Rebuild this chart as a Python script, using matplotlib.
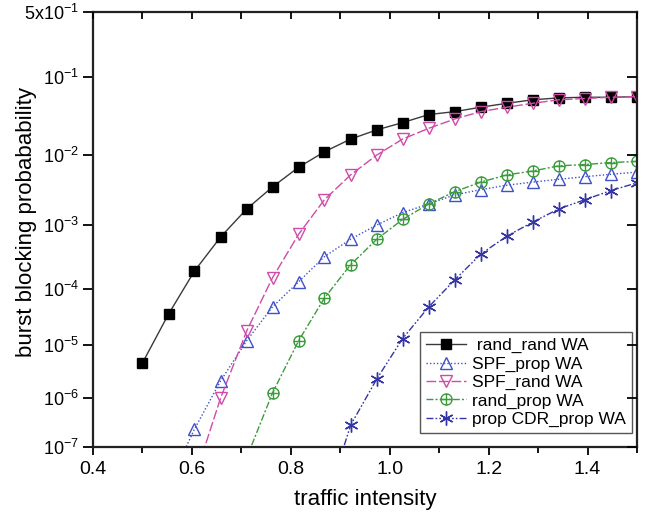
import matplotlib
matplotlib.use("Agg")
import matplotlib.pyplot as plt
import numpy as np
from matplotlib.path import Path
from matplotlib.ticker import FixedLocator, MultipleLocator, NullLocator

plt.rcParams["font.family"] = ["Liberation Sans", "DejaVu Sans"]
plt.rcParams["mathtext.fontset"] = "custom"
plt.rcParams["mathtext.rm"] = "Liberation Sans"
plt.rcParams["mathtext.it"] = "Liberation Sans:italic"

nan = np.nan

# traffic intensity (20 load points, 0.5 ... 1.5)
load = [0.500, 0.553, 0.605, 0.658, 0.711, 0.763, 0.816, 0.868, 0.921, 0.974,
        1.026, 1.079, 1.132, 1.184, 1.237, 1.289, 1.342, 1.395, 1.447, 1.500]

# burst blocking probability per scheme (nan = not simulated / not shown)
rand_rand = [4.6e-6, 3.6e-5, 1.9e-4, 6.5e-4, 1.7e-3, 3.5e-3, 6.7e-3, 1.1e-2, 1.6e-2, 2.1e-2,
             2.6e-2, 3.3e-2, 3.6e-2, 4.1e-2, 4.6e-2, 5.1e-2, 5.4e-2, 5.5e-2, 5.5e-2, 5.6e-2]
spf_prop = [nan, 1.6e-8, 2.3e-7, 2.1e-6, 1.2e-5, 4.8e-5, 1.3e-4, 3.2e-4, 6.0e-4, 1.0e-3,
            1.5e-3, 2.0e-3, 2.7e-3, 3.2e-3, 3.7e-3, 4.1e-3, 4.5e-3, 4.9e-3, 5.3e-3, 5.7e-3]
spf_rand = [nan, nan, 2.1e-8, 1.0e-6, 1.8e-5, 1.5e-4, 7.2e-4, 2.3e-3, 5.2e-3, 1.0e-2,
            1.6e-2, 2.2e-2, 2.9e-2, 3.6e-2, 4.1e-2, 4.6e-2, 5.1e-2, 5.3e-2, 5.5e-2, 5.6e-2]
rand_prop = [nan, nan, nan, nan, 6.0e-8, 1.25e-6, 1.2e-5, 6.9e-5, 2.4e-4, 6.0e-4,
             1.2e-3, 2.0e-3, 3.0e-3, 4.1e-3, 5.2e-3, 5.9e-3, 7.0e-3, 7.3e-3, 7.8e-3, 8.1e-3]
cdr_prop = [nan, nan, nan, nan, nan, nan, nan, 5.0e-9, 2.8e-7, 2.3e-6,
            1.3e-5, 4.8e-5, 1.4e-4, 3.5e-4, 6.7e-4, 1.1e-3, 1.7e-3, 2.3e-3, 3.1e-3, 4.0e-3]

labels = [" rand_rand WA", "SPF_prop WA", "SPF_rand WA", "rand_prop WA", "prop CDR_prop WA"]

y_ticks = [5e-1, 1e-1, 1e-2, 1e-3, 1e-4, 1e-5, 1e-6, 1e-7]
y_ticklabels = [r"$\mathregular{5x10^{-1}}$"] + [rf"$\mathregular{{10^{{{e}}}}}$" for e in range(-1, -8, -1)]

# the original's probability axis is a compressed log axis: decades get
# narrower towards the bottom. Piecewise map log10(p) -> axis height.
_DEC = np.array([-9.0, -7.0, -6.0, -5.0, -4.0, -3.0, -2.0, -1.0, np.log10(0.5), 0.0])
_HGT = np.array([-94.0, 0.0, 49.0, 102.0, 158.0, 222.0, 292.0, 370.0, 435.0, 463.0])


def _fwd(p):
    p = np.asarray(p, dtype=float)
    with np.errstate(divide="ignore", invalid="ignore"):
        lp = np.log10(np.clip(p, 1e-30, None))
    return np.interp(lp, _DEC, _HGT)


def _inv(h):
    return 10.0 ** np.interp(np.asarray(h, dtype=float), _HGT, _DEC)


def _circle_plus():
    circ = Path.unit_circle()
    cross = Path([(-1, 0), (1, 0), (0, -1), (0, 1)],
                 [Path.MOVETO, Path.LINETO, Path.MOVETO, Path.LINETO])
    return Path.make_compound_path(circ, cross)


styles = [
    dict(color="#3a3a3a", ls="-", marker="s", ms=6.5, mfc="black", mec="black"),
    dict(color="#3f51c8", ls=(0, (1, 1.5)), marker="^", ms=9, mfc="none", mec="#3f51c8"),
    dict(color="#d04aa8", ls=(0, (7, 2)), marker="v", ms=9, mfc="none", mec="#d04aa8"),
    dict(color="#3c9c3c", ls=(0, (5, 1.5, 1.5, 1.5)), marker=_circle_plus(), ms=8, mfc="none", mec="#3c9c3c"),
    dict(color="#3535a5", ls=(0, (5, 1.5, 1.2, 1.5, 1.2, 1.5)), marker=(6, 2, 0), ms=10, mfc="none", mec="#3535a5"),
]

fig = plt.figure(figsize=(6.46, 5.17), dpi=100)
ax = fig.add_axes([0.144, 0.1354, 0.842, 0.8414])

x = np.array(load)
for series, lab, st in zip([rand_rand, spf_prop, spf_rand, rand_prop, cdr_prop], labels, styles):
    ax.plot(x, np.array(series), lw=1.0, mew=1.0, label=lab, **st)

ax.set_yscale("function", functions=(_fwd, _inv))
ax.set_ylim(1e-7, 5e-1)
ax.set_xlim(0.4, 1.5)

ax.yaxis.set_major_locator(FixedLocator(y_ticks))
ax.set_yticklabels(y_ticklabels)
ax.yaxis.set_minor_locator(NullLocator())
ax.xaxis.set_major_locator(MultipleLocator(0.2))
ax.xaxis.set_minor_locator(MultipleLocator(0.1))
ax.xaxis.set_major_formatter(matplotlib.ticker.FormatStrFormatter("%.1f"))

ax.tick_params(axis="x", which="major", direction="out", length=6, width=1.3, labelsize=14, pad=4)
ax.tick_params(axis="x", which="minor", direction="out", length=4, width=1.3)
ax.tick_params(axis="y", which="major", direction="out", length=7, width=1.3, labelsize=13, pad=3)
for s in ax.spines.values():
    s.set_linewidth(1.6)
    s.set_color("#222222")

ax.set_xlabel("traffic intensity", fontsize=16, labelpad=8)
ax.set_ylabel("burst blocking probabability", fontsize=16)
ax.yaxis.set_label_coords(-0.103, 0.517)

# mirrored ticks: inward on the right and top
right = ax.twinx()
right.set_yscale("function", functions=(_fwd, _inv))
right.set_ylim(1e-7, 5e-1)
right.yaxis.set_major_locator(FixedLocator(y_ticks[1:]))
right.yaxis.set_minor_locator(NullLocator())
right.tick_params(axis="y", direction="in", length=7, width=1.3, labelright=False)
top = ax.twiny()
top.set_xlim(0.4, 1.5)
top.xaxis.set_major_locator(MultipleLocator(0.1))
top.xaxis.set_minor_locator(NullLocator())
top.tick_params(axis="x", direction="in", length=5, width=1.3, labeltop=False)
for t in (right, top):
    for s in t.spines.values():
        s.set_visible(False)

leg = ax.legend(loc="lower right", bbox_to_anchor=(0.991, 0.032), borderaxespad=0,
                fontsize=12.5, frameon=True, fancybox=False, framealpha=1,
                edgecolor="#555555", labelspacing=0.18, borderpad=0.35,
                handlelength=2.3, handletextpad=0.35)
leg.get_frame().set_linewidth(1.0)
leg.set_zorder(10)

fig.savefig("out.png", dpi=100)
